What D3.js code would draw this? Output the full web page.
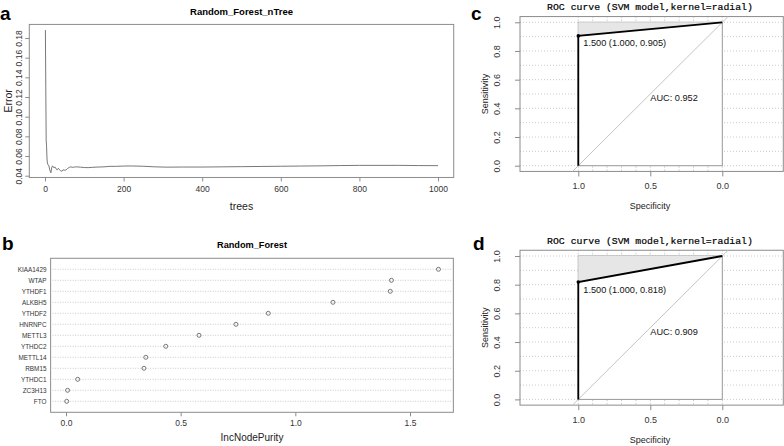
<!DOCTYPE html>
<html><head><meta charset="utf-8">
<script src="https://cdn.jsdelivr.net/npm/d3@7"></script>
<style>body{margin:0;background:#fff}svg{display:block}</style>
</head><body><svg id="c" width="784" height="446" font-family="Liberation Sans, Arial, sans-serif"></svg>
<script>
// ---- data ----
const errTrees = [1,2,3,4,5,6,8,10,12,14,15,17,19,21,23,25,28,31,34,37,40,43,46,50,54,58,62,66,70,75,80,90,100,110,120,135,150,165,180,200,220,250,280,310,350,400,450,500,550,600,650,700,750,800,850,900,950,1000];
const errValues = [0.188,0.13,0.076,0.07,0.058,0.053,0.051,0.05,0.046,0.044,0.043,0.048,0.050,0.049,0.048,0.049,0.047,0.046,0.0475,0.046,0.045,0.0445,0.046,0.0455,0.046,0.0475,0.0485,0.049,0.0485,0.0488,0.049,0.0487,0.0483,0.0482,0.0485,0.0488,0.049,0.0495,0.0495,0.0498,0.0499,0.0496,0.049,0.0487,0.0488,0.0488,0.049,0.0492,0.0494,0.0496,0.0498,0.05,0.0503,0.0505,0.0505,0.0505,0.0503,0.0502];
const errXTicks = [0,200,400,600,800,1000];
const errYTicks = [0.04,0.06,0.08,0.10,0.12,0.14,0.16,0.18];

const genes = ["KIAA1429","WTAP","YTHDF1","ALKBH5","YTHDF2","HNRNPC","METTL3","YTHDC2","METTL14","RBM15","YTHDC1","ZC3H13","FTO"];
const purity = [1.624,1.419,1.414,1.164,0.882,0.741,0.58,0.435,0.348,0.340,0.051,0.007,0.003];
const purityTicks = [0.0,0.5,1.0,1.5];

const rocTitle = "ROC curve (SVM model,kernel=radial)";
const rocSens = [0.905, 0.818];
const rocAUC = [0.952, 0.909];
const rocThreshold = [1.5, 1.5];
const rocTicks = [0.0,0.2,0.4,0.6,0.8,1.0];
const specTicks = [1.0,0.5,0.0];
const gridSteps = d3.range(0, 11).map(i => i/10);

const svg = d3.select("#c");
svg.append("rect").attr("width",784).attr("height",446).attr("fill","#fff");
const BOX = "#8c8c8c";

function label(t, x, y){
  svg.append("text").attr("x",x).attr("y",y).attr("font-size",19).attr("font-weight","bold").attr("fill","#000").text(t);
}
label("a",0,20); label("b",2,250); label("c",471,20); label("d",473,250);

function styleAxis(a, size){
  a.select(".domain").remove();
  a.selectAll(".tick line").attr("stroke",BOX);
  a.selectAll("text").attr("font-size",size).attr("fill","#333").attr("font-family",null);
}

// ---- panel a ----
(function(){
  const x = d3.scaleLinear().domain([0,1000]).range([45,438]);
  const y = d3.scaleLinear().domain([0.04,0.18]).range([175.7,38]);
  const L = x(-39.96), R = x(1039.96), T = y(0.1938), B = y(0.0382);
  const g = svg.append("g");
  g.append("rect").attr("x",L).attr("y",T).attr("width",R-L).attr("height",B-T).attr("fill","none").attr("stroke",BOX);
  const line = d3.line().x((d,i)=>x(errTrees[i])).y(d=>y(d));
  g.append("path").attr("d",line(errValues)).attr("fill","none").attr("stroke","#555").attr("stroke-width",0.8);
  const ax = g.append("g").attr("transform",`translate(0,${B})`).call(d3.axisBottom(x).tickValues(errXTicks).tickSize(4).tickPadding(4).tickFormat(d3.format("d")));
  const ay = g.append("g").attr("transform",`translate(${L},0)`).call(d3.axisLeft(y).tickValues(errYTicks).tickSize(4).tickPadding(3).tickFormat(d3.format(".2f")));
  styleAxis(ax, 8.5); styleAxis(ay, 8.5);
  ay.selectAll(".tick text").attr("transform","rotate(-90)").attr("x",0).attr("y",-7).attr("dy","0").attr("text-anchor","middle");
  g.append("text").attr("x",(L+R)/2).attr("y",15).attr("text-anchor","middle").attr("font-size",9.5).attr("font-weight","bold").text("Random_Forest_nTree");
  g.append("text").attr("x",(L+R)/2).attr("y",210).attr("text-anchor","middle").attr("font-size",10.5).attr("fill","#222").text("trees");
  g.append("text").attr("transform",`translate(12.3,${(T+B)/2}) rotate(-90)`).attr("text-anchor","middle").attr("font-size",10.5).attr("fill","#222").text("Error");
})();

// ---- panel b ----
(function(){
  const x = d3.scaleLinear().domain([0,1.5]).range([66,410]);
  const y = d3.scaleLinear().domain([0,genes.length+1]).range([412.3,258.3]);
  const L = x(-0.067), R = x(1.689), T = y(genes.length+1), B = y(0);
  const g = svg.append("g");
  const rows = genes.map((gname,i)=>({gname, v: purity[i], pos: genes.length - i}));
  g.selectAll("line.row").data(rows).join("line").attr("class","row")
    .attr("x1",L+2).attr("x2",R-2).attr("y1",d=>y(d.pos)).attr("y2",d=>y(d.pos))
    .attr("stroke","#aaa").attr("stroke-width",0.6).attr("stroke-dasharray","1,1.5");
  g.append("rect").attr("x",L).attr("y",T).attr("width",R-L).attr("height",B-T).attr("fill","none").attr("stroke",BOX);
  g.selectAll("circle").data(rows).join("circle").attr("cx",d=>x(d.v)).attr("cy",d=>y(d.pos)).attr("r",2)
    .attr("fill","none").attr("stroke","#444").attr("stroke-width",0.7);
  g.selectAll("text.gene").data(rows).join("text").attr("class","gene").attr("x",46.5).attr("y",d=>y(d.pos)+2.2)
    .attr("text-anchor","end").attr("font-size",6.4).attr("fill","#333").text(d=>d.gname);
  const ax = g.append("g").attr("transform",`translate(0,${B})`).call(d3.axisBottom(x).tickValues(purityTicks).tickSize(4).tickPadding(4).tickFormat(d3.format(".1f")));
  styleAxis(ax, 8.5);
  g.append("text").attr("x",(L+R)/2).attr("y",248).attr("text-anchor","middle").attr("font-size",9.2).attr("font-weight","bold").text("Random_Forest");
  g.append("text").attr("x",(L+R)/2).attr("y",441).attr("text-anchor","middle").attr("font-size",10).attr("fill","#222").text("IncNodePurity");
})();

// ---- panels c, d ----
function roc(k, top){
  const x = d3.scaleLinear().domain([1,0]).range([578.3,722.3]);
  const y = d3.scaleLinear().domain([0,1]).range([top+143.4,top]);
  const L = 520, R = 783.3, T = y(1.04), B = y(-0.04);
  const g = svg.append("g");
  gridSteps.forEach(v=>{
    g.append("line").attr("x1",L).attr("x2",R).attr("y1",y(v)).attr("y2",y(v))
      .attr("stroke","#b5b5b5").attr("stroke-width",0.7).attr("stroke-dasharray","1,2");
    g.append("line").attr("x1",x(v)).attr("x2",x(v)).attr("y1",T).attr("y2",B)
      .attr("stroke","#9a9a9a").attr("stroke-width",0.7).attr("stroke-dasharray","1,2");
  });
  g.append("rect").attr("x",L).attr("y",T).attr("width",R-L).attr("height",B-T).attr("fill","none").attr("stroke",BOX);
  g.append("rect").attr("x",x(1)).attr("y",y(1)).attr("width",x(0)-x(1)).attr("height",y(0)-y(1)).attr("fill","#fff").attr("stroke","#999").attr("stroke-width",1);
  const s = rocSens[k];
  g.append("path").attr("d",d3.line()([[x(1),y(1)],[x(1),y(s)],[x(0),y(1)]])+"Z").attr("fill","#e6e6e6").attr("stroke","none");
  g.append("line").attr("x1",x(1.04)).attr("y1",y(-0.04)).attr("x2",x(-0.04)).attr("y2",y(1.04)).attr("stroke","#c4c4c4").attr("stroke-width",1);
  g.append("path").attr("d",d3.line()([[x(1),y(0)],[x(1),y(s)],[x(0),y(1)]])).attr("fill","none").attr("stroke","#000").attr("stroke-width",1.8);
  g.append("circle").attr("cx",x(1)).attr("cy",y(s)).attr("r",1.8).attr("fill","#000");
  const fmt = d3.format(".3f");
  g.append("text").attr("x",x(1)+5).attr("y",y(s)+10.5).attr("font-size",9.2).attr("fill","#111")
    .text(`${fmt(rocThreshold[k])} (${fmt(1)}, ${fmt(s)})`);
  g.append("text").attr("x",x(0.5)).attr("y",y(0.5)+7).attr("font-size",9.2).attr("fill","#111").text(`AUC: ${fmt(rocAUC[k])}`);
  const ax = g.append("g").attr("transform",`translate(0,${B})`).call(d3.axisBottom(x).tickValues(specTicks).tickSize(5).tickPadding(6).tickFormat(d3.format(".1f")));
  const ay = g.append("g").attr("transform",`translate(${L},0)`).call(d3.axisLeft(y).tickValues(rocTicks).tickSize(5).tickPadding(3).tickFormat(d3.format(".1f")));
  styleAxis(ax, 9); styleAxis(ay, 9);
  ay.selectAll(".tick text").attr("transform","rotate(-90)").attr("x",0).attr("y",-20).attr("dy","0").attr("text-anchor","middle");
  g.append("text").attr("x",650).attr("y",top+186.5).attr("text-anchor","middle").attr("font-size",9).attr("fill","#222").text("Specificity");
  g.append("text").attr("transform",`translate(487.5,${y(0.5)}) rotate(-90)`).attr("text-anchor","middle").attr("font-size",9).attr("fill","#222").text("Sensitivity");
  g.append("text").attr("x",650).attr("y",top-12).attr("text-anchor","middle").attr("font-size",9.8)
    .attr("font-family","Liberation Mono, monospace").attr("fill","#000").attr("stroke","#000").attr("stroke-width",0.2).text(rocTitle);
}
roc(0, 22.3);
roc(1, 256);
</script></body></html>
